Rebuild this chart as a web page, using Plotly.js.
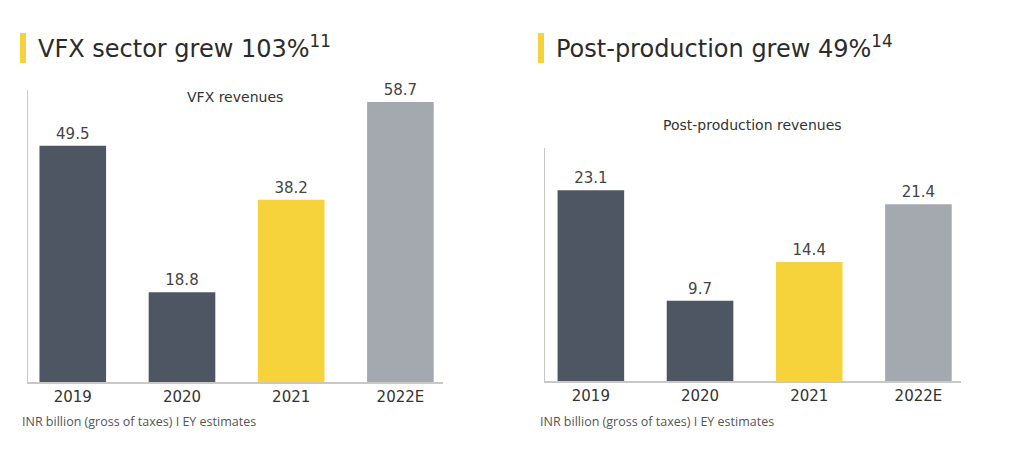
<!DOCTYPE html>
<html>
<head>
<meta charset="utf-8">
<script src="https://cdn.plot.ly/plotly-3.0.1.min.js"></script>
<style>
html,body{margin:0;padding:0;background:#fff;}
#chart{width:1024px;height:449px;}
</style>
</head>
<body>
<div id="chart"></div>
<script>
const categories = ["2019", "2020", "2021", "2022E"];
const vfxRevenues = [49.5, 18.8, 38.2, 58.7];
const postRevenues = [23.1, 9.7, 14.4, 21.4];
const vfxLabels = ["49.5", "18.8", "38.2", "58.7"];
const postLabels = ["23.1", "9.7", "14.4", "21.4"];
const barColors = ["#4f5663", "#4f5663", "#f6d23b", "#a4a9b0"];

const W = 1024, H = 449;
const px = v => v / W;
const py = v => (H - v) / H;

const labelFont = {family: "DejaVu Sans, Verdana, sans-serif", size: 15, color: "#444"};

const traces = [
  {
    type: "bar", x: [0, 1, 2, 3], y: vfxRevenues, text: vfxLabels,
    textposition: "outside", cliponaxis: false, textfont: labelFont,
    marker: {color: barColors, line: {width: 0}}, width: 0.61,
    xaxis: "x", yaxis: "y", hoverinfo: "skip"
  },
  {
    type: "bar", x: [0, 1, 2, 3], y: postRevenues, text: postLabels,
    textposition: "outside", cliponaxis: false, textfont: labelFont,
    marker: {color: barColors, line: {width: 0}}, width: 0.61,
    xaxis: "x2", yaxis: "y2", hoverinfo: "skip"
  }
];

const xCommon = {
  tickmode: "array", tickvals: [0, 1, 2, 3], ticktext: categories,
  showline: true, linecolor: "#c8c8c8", linewidth: 1.5, showgrid: false, zeroline: false,
  ticks: "", tickfont: {family: "DejaVu Sans, Verdana, sans-serif", size: 15, color: "#333"},
  fixedrange: true
};
const yCommon = {
  showline: true, linecolor: "#c8c8c8", linewidth: 1.5, showgrid: false, zeroline: false,
  showticklabels: false, ticks: "", fixedrange: true
};

const titleFont = {family: "DejaVu Sans, Verdana, sans-serif", size: 24, color: "#2b2b2b"};
const subFont = {family: "DejaVu Sans, Verdana, sans-serif", size: 14, color: "#333"};
const noteFont = {family: "Open Sans, sans-serif", size: 12.5, color: "#555"};

const layout = {
  width: W, height: H,
  margin: {l: 0, r: 0, t: 0, b: 0},
  paper_bgcolor: "#ffffff", plot_bgcolor: "#ffffff",
  showlegend: false, bargap: 0.4,
  xaxis: Object.assign({}, xCommon, {domain: [px(28), px(443)], range: [-0.41, 3.39], anchor: "y"}),
  yaxis: Object.assign({}, yCommon, {domain: [py(382), py(90)], range: [0, 61.2], anchor: "x"}),
  xaxis2: Object.assign({}, xCommon, {domain: [px(545), px(961)], range: [-0.42, 3.39], anchor: "y2"}),
  yaxis2: Object.assign({}, yCommon, {domain: [py(381), py(148)], range: [0, 28.2], anchor: "x2"}),
  shapes: [
    {type: "rect", xref: "paper", yref: "paper", x0: px(20), x1: px(26), y0: py(63), y1: py(33), fillcolor: "#f2d33a", line: {width: 0}},
    {type: "rect", xref: "paper", yref: "paper", x0: px(538), x1: px(544), y0: py(63), y1: py(33), fillcolor: "#f2d33a", line: {width: 0}}
  ],
  annotations: [
    {xref: "paper", yref: "paper", x: px(36), y: py(47), xanchor: "left", yanchor: "middle", showarrow: false,
     text: "VFX sector grew 103%<sup>11</sup>", font: titleFont},
    {xref: "paper", yref: "paper", x: px(554), y: py(47), xanchor: "left", yanchor: "middle", showarrow: false,
     text: "Post-production grew 49%<sup>14</sup>", font: titleFont},
    {xref: "paper", yref: "paper", x: px(235), y: py(97), xanchor: "center", yanchor: "middle", showarrow: false,
     text: "VFX revenues", font: subFont},
    {xref: "paper", yref: "paper", x: px(752), y: py(125), xanchor: "center", yanchor: "middle", showarrow: false,
     text: "Post-production revenues", font: subFont},
    {xref: "paper", yref: "paper", x: px(20), y: py(421), xanchor: "left", yanchor: "middle", showarrow: false,
     text: "INR billion (gross of taxes) I EY estimates", font: noteFont},
    {xref: "paper", yref: "paper", x: px(538), y: py(421), xanchor: "left", yanchor: "middle", showarrow: false,
     text: "INR billion (gross of taxes) I EY estimates", font: noteFont}
  ]
};

Plotly.newPlot("chart", traces, layout, {displayModeBar: false, staticPlot: true});
</script>
</body>
</html>
